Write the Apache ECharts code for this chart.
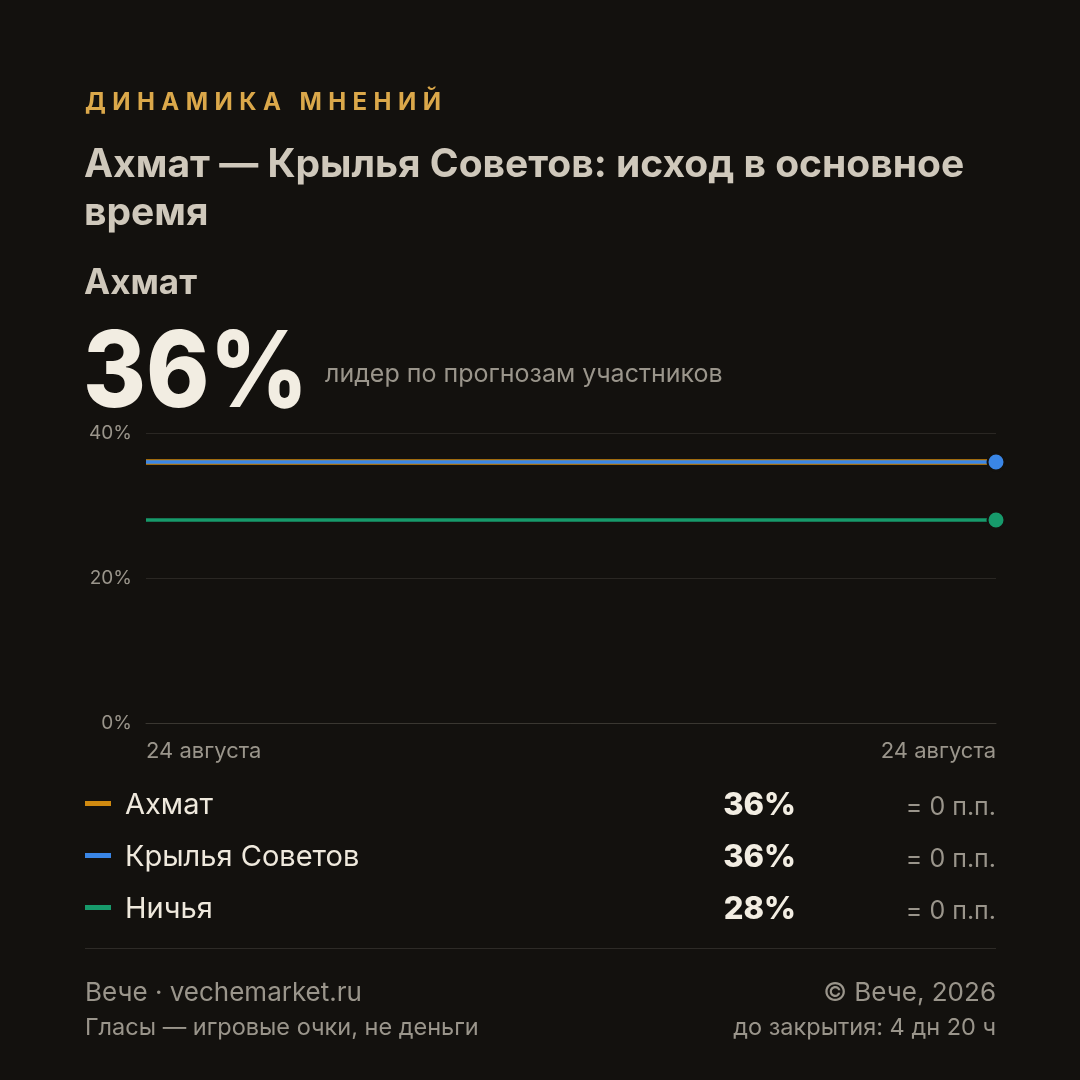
<!DOCTYPE html>
<html><head><meta charset="utf-8">
<script src="https://cdn.jsdelivr.net/npm/echarts@6/dist/echarts.min.js"></script>
<style>html,body{margin:0;padding:0;background:#13110e;}#c{width:1080px;height:1080px;}</style>
</head><body><div id="c"></div>
<script>
// ---- data ----
const categories = ['24 августа', '24 августа'];
const seriesNames = ['Ахмат', 'Крылья Советов', 'Ничья'];
const akhmatValues = [36, 36];
const krylyaValues = [36, 36];
const drawValues = [28, 28];
const changes = ['= 0 п.п.', '= 0 п.п.', '= 0 п.п.'];
const yTicks = [0, 20, 40];
const headerText = 'ДИНАМИКА МНЕНИЙ';
const titleLines = ['Ахмат — Крылья Советов: исход в основное', 'время'];
const leaderName = 'Ахмат';
const leaderValue = 36;
const leaderCaption = 'лидер по прогнозам участников';
const footerLeft = ['Вече · vechemarket.ru', 'Гласы — игровые очки, не деньги'];
const footerRight = ['© Вече, 2026', 'до закрытия: 4 дн 20 ч'];

const BG = '#13110e';
const colors = ['#d08a10', '#3a86e6', '#179a6b'];
const FONT = 'Inter';
const allValues = [akhmatValues, krylyaValues, drawValues];

const chart = echarts.init(document.getElementById('c'), null, {renderer: 'canvas'});

// letter-spaced header
const ctx = document.createElement('canvas').getContext('2d');
const headerFont = 'bold 24px ' + FONT;
ctx.font = headerFont;
const hStart = 85, hEnd = 441;
const chars = headerText.split('');
const natural = chars.reduce((s, c) => s + ctx.measureText(c).width, 0);
const spacing = (hEnd - hStart - natural) / (chars.length - 1);
const graphics = [];
let hx = hStart;
chars.forEach(c => {
  graphics.push({type: 'text', left: hx, top: 91, style: {text: c, font: headerFont, fill: '#dba84a'}});
  hx += ctx.measureText(c).width + spacing;
});

titleLines.forEach((t, i) => {
  graphics.push({type: 'text', left: 84, top: 146 + i * 48, style: {text: t, font: 'bold 39px ' + FONT, fill: '#cfc8bb'}});
});
graphics.push({type: 'text', left: 84, top: 266, style: {text: leaderName, font: 'bold 35px ' + FONT, fill: '#cfc8bb'}});
graphics.push({type: 'text', x: 83, y: 322, scaleX: 0.905, style: {text: leaderValue + '%', font: '800 106px ' + FONT, fill: '#f2ede2'}});
graphics.push({type: 'text', left: 325, top: 362, style: {text: leaderCaption, font: '25px ' + FONT, fill: '#9a958b'}});

// legend rows
seriesNames.forEach((n, i) => {
  const y = 805 + i * 52;
  const vals = allValues[i];
  graphics.push({type: 'rect', shape: {x: 85, y: y - 4, width: 26, height: 5}, style: {fill: colors[i]}});
  graphics.push({type: 'text', x: 125, y: y, style: {text: n, font: '29px ' + FONT, fill: '#efe9dd', verticalAlign: 'middle'}});
  graphics.push({type: 'text', x: 796, y: y + 1, style: {text: vals[vals.length - 1] + '%', font: '800 31px ' + FONT, fill: '#f2ede2', align: 'right', verticalAlign: 'middle'}});
  graphics.push({type: 'text', x: 996, y: y + 2, style: {text: changes[i], font: '25px ' + FONT, fill: '#9a958b', align: 'right', verticalAlign: 'middle'}});
});

graphics.push({type: 'rect', shape: {x: 85, y: 948, width: 911, height: 1}, style: {fill: '#2e2b27'}});
footerLeft.forEach((t, i) => {
  graphics.push({type: 'text', x: 85, y: 993 + i * 35, style: {text: t, font: (i === 0 ? 26 : 23.5) + 'px ' + FONT, fill: '#9a958b', verticalAlign: 'middle'}});
});
footerRight.forEach((t, i) => {
  graphics.push({type: 'text', x: 996, y: 993 + i * 35, style: {text: t, font: (i === 0 ? 26 : 23.5) + 'px ' + FONT, fill: '#9a958b', align: 'right', verticalAlign: 'middle'}});
});

const widths = [5.5, 3.5, 3.5];
const series = seriesNames.map((n, i) => ({
  name: n,
  type: 'line',
  data: allValues[i],
  z: 2 + i,
  lineStyle: {color: colors[i], width: widths[i]},
  itemStyle: {color: colors[i], borderColor: BG, borderWidth: 2},
  symbol: 'circle',
  symbolSize: (v, p) => p.dataIndex === allValues[i].length - 1 ? 17 : 0,
  showSymbol: true,
  showAllSymbol: true,
  animation: false,
  emphasis: {disabled: true}
}));

chart.setOption({
  backgroundColor: BG,
  animation: false,
  grid: {left: 146, right: 84, top: 433, bottom: 357, containLabel: false},
  xAxis: {
    type: 'category',
    data: categories,
    boundaryGap: false,
    axisLine: {show: true, lineStyle: {color: '#3a3731', width: 1}},
    axisTick: {show: false},
    splitLine: {show: false},
    axisLabel: {
      color: '#9a958b', fontFamily: FONT, fontSize: 22, margin: 17, interval: 0,
      alignMinLabel: 'left', alignMaxLabel: 'right', showMinLabel: true, showMaxLabel: true
    }
  },
  yAxis: {
    type: 'value',
    min: yTicks[0],
    max: yTicks[yTicks.length - 1],
    interval: yTicks[1] - yTicks[0],
    axisLine: {show: false},
    axisTick: {show: false},
    splitLine: {lineStyle: {color: '#2a2723', width: 1}},
    axisLabel: {color: '#9a958b', fontFamily: FONT, fontSize: 19, margin: 14, formatter: '{value}%', padding: [5, 0, 0, 0]}
  },
  series: series,
  graphic: graphics
});
</script></body></html>
